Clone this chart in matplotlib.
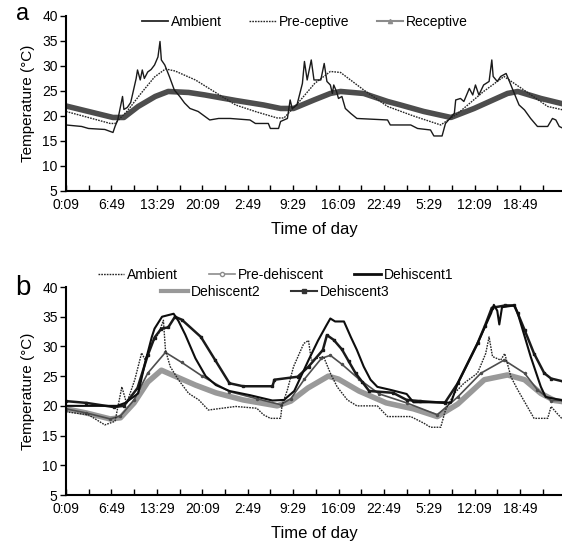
import matplotlib
matplotlib.use("Agg")
import matplotlib.pyplot as plt
from matplotlib.lines import Line2D

plt.rcParams['font.family'] = ['Liberation Sans', 'DejaVu Sans']

# x tick labels (every 400 min from 0:09), ticks every 200 min
tick_labels = ["0:09", "6:49", "13:29", "20:09", "2:49", "9:29",
               "16:09", "22:49", "5:29", "12:09", "18:49"]

# ---- panel a : hours since 0:09 / temperature (deg C)
amb_a_h = [0, 2.3, 3.3, 5.7, 6.9, 7.2, 7.6, 8.3, 8.5, 9.0,
           9.5, 10.3, 10.5, 10.9, 11.2, 11.5, 12.0, 12.5, 13.0, 13.5,
           13.8, 14.0, 14.5, 15.2, 15.9, 16.7, 17.4, 18.2, 19.4, 20.4,
           21.1, 22.4, 24.1, 27.0, 27.8, 29.7, 30.0, 31.2, 31.5, 32.5,
           32.9, 33.2, 33.9, 34.7, 35.0, 35.4, 36.0, 36.4, 37.4, 37.9,
           38.3, 38.8, 39.1, 39.3, 39.7, 40.0, 40.5, 41.0, 41.8, 42.7,
           47.2, 47.6, 50.6, 51.6, 53.5, 54.0, 55.2, 55.7, 57.0, 57.2,
           57.9, 58.4, 59.2, 59.7, 60.1, 60.6, 61.3, 62.1, 62.5, 62.7,
           63.3, 63.8, 64.6, 65.0, 65.8, 66.5, 67.3, 68.2, 69.2, 70.7,
           71.4, 71.9, 72.4, 73.0]
amb_a_t = [18.2, 17.9, 17.5, 17.3, 16.7, 17.9, 19.2, 23.9, 21.3, 21.7,
           22.7, 27.5, 29.2, 27.2, 29.2, 27.5, 28.8, 29.3, 30.2, 31.8,
           34.9, 31.2, 30.2, 27.8, 25.2, 23.9, 22.6, 21.5, 20.9, 19.9,
           19.2, 19.5, 19.5, 19.2, 18.5, 18.5, 17.5, 17.5, 18.9, 19.5,
           23.2, 21.5, 22.2, 26.5, 30.9, 27.2, 31.2, 27.2, 27.2, 30.5,
           26.9, 26.2, 24.5, 26.2, 24.9, 23.5, 23.9, 21.5, 20.5, 19.5,
           19.2, 18.2, 18.2, 17.5, 17.2, 16.0, 16.0, 18.5, 20.5, 23.2,
           23.5, 22.9, 25.5, 24.2, 26.2, 24.2, 26.2, 26.9, 31.2, 27.9,
           26.9, 27.9, 28.5, 27.2, 24.5, 22.2, 21.2, 19.5, 17.9, 17.9,
           19.5, 19.2, 17.9, 17.5]

pre_a_h = [0, 3.0, 6.5, 7.2, 9.0, 11.0, 13.0, 14.6, 16.0, 19.0,
           24.9, 28.0, 31.0, 32.0, 34.0, 36.5, 38.8, 40.3, 43.7, 47.2,
           51.0, 55.0, 57.5, 61.3, 64.3, 67.2, 70.7, 73.0]
pre_a_t = [20.9, 19.8, 18.5, 18.5, 21.0, 24.5, 27.8, 29.4, 29.0, 27.2,
           22.2, 20.8, 19.6, 19.6, 22.5, 26.5, 28.9, 28.7, 25.2, 21.9,
           20.0, 18.2, 20.5, 24.9, 27.9, 25.2, 21.9, 21.2]

rec_a_h = [0, 3.3, 6.9, 8.5, 10.6, 13.1, 15.0, 18.0, 20.4, 24.9,
           29.0, 31.5, 33.4, 36.4, 38.8, 40.3, 43.7, 47.2, 49.1, 52.5,
           56.5, 59.9, 64.8, 66.3, 69.7, 73.0]
rec_a_t = [22.0, 20.9, 19.7, 19.7, 21.9, 23.9, 24.9, 24.7, 24.2, 23.1,
           22.2, 21.5, 21.5, 23.2, 24.5, 24.9, 24.5, 22.9, 22.2, 20.9,
           19.7, 21.5, 24.5, 24.9, 23.5, 22.4]

# ---- panel b
amb_b_h = [0, 3.3, 5.7, 7.2, 8.2, 8.9, 10.1, 11.1, 11.6, 12.6,
           13.6, 14.3, 14.6, 15.3, 16.5, 18.0, 19.5, 20.9, 24.9, 28.0,
           29.0, 30.0, 31.5, 31.7, 32.5, 33.4, 34.9, 35.6, 36.0, 37.8,
           38.8, 39.8, 41.3, 42.7, 45.7, 47.2, 50.6, 52.5, 53.5, 55.0,
           55.7, 57.0, 58.4, 60.4, 61.6, 62.1, 62.6, 63.8, 64.4, 65.3,
           66.3, 67.7, 68.7, 70.7, 71.2, 72.1, 73.0]
amb_b_t = [19.0, 18.5, 16.8, 17.4, 23.2, 20.4, 24.4, 28.9, 27.8, 30.5,
           32.2, 34.4, 29.4, 26.6, 24.4, 22.1, 21.0, 19.3, 19.9, 19.6,
           18.5, 17.9, 17.9, 20.0, 22.7, 26.6, 30.5, 31.0, 27.7, 28.3,
           25.5, 23.2, 21.0, 20.0, 20.0, 18.2, 18.2, 17.1, 16.4, 16.4,
           19.3, 22.1, 23.8, 25.5, 28.8, 31.6, 28.3, 27.7, 28.8, 24.9,
           22.7, 19.9, 17.9, 17.9, 19.9, 18.7, 17.6]

pred_b_h = [0, 3, 6.5, 8, 10, 12, 14.6, 17, 20, 24,
            28, 31.5, 33, 35, 37.5, 38.8, 40.5, 43, 46, 50,
            54.5, 57.5, 60.9, 64.3, 67.3, 69.2, 71.2, 73]
pred_b_t = [19.5, 18.8, 17.8, 18.3, 21.0, 25.5, 29.0, 27.3, 25.0, 22.4,
            21.2, 20.2, 21.2, 24.5, 28.0, 28.5, 27.0, 24.5, 22.0, 20.5,
            18.5, 21.5, 25.5, 27.7, 25.5, 22.7, 20.9, 20.9]

d1_h = [0, 3, 7.5, 8.7, 10.6, 11.6, 12.6, 13.0, 14.1, 15.8,
        16.5, 17.5, 19.0, 20.5, 22.0, 24.0, 27.0, 30.3, 32.0, 33.5,
        35.6, 37.0, 38.2, 38.8, 39.5, 40.8, 41.8, 42.7, 43.7, 44.7,
        45.7, 47.6, 50.0, 51.0, 55.6, 56.5, 57.5, 60.4, 62.4, 62.8,
        63.3, 63.6, 64.0, 65.8, 66.3, 68.2, 69.7, 70.4, 73.0]
d1_t = [20.0, 20.0, 20.0, 20.5, 22.1, 27.2, 31.6, 33.0, 35.0, 35.5,
        34.3, 32.0, 28.0, 25.0, 23.5, 22.5, 21.8, 20.9, 21.0, 22.5,
        27.7, 31.0, 33.5, 34.7, 34.2, 34.2, 31.6, 29.4, 26.6, 24.4,
        23.2, 22.7, 22.0, 20.6, 20.6, 20.5, 23.8, 30.5, 35.6, 37.0,
        36.0, 33.7, 36.6, 36.9, 35.6, 28.3, 23.2, 21.5, 20.9]

d2_h = [0, 3, 6.5, 8, 10, 12, 14.0, 16, 19, 22,
        26, 31, 33, 35.5, 38.5, 40, 43, 47, 51, 54.5,
        57.5, 61.4, 64.8, 67.3, 69.7, 71.7, 73]
d2_t = [19.5, 18.8, 17.8, 18.0, 20.5, 24.0, 26.0, 25.0, 23.5, 22.2,
        21.0, 20.0, 20.8, 23.0, 25.0, 24.5, 22.5, 20.5, 19.5, 18.2,
        20.3, 24.4, 25.2, 24.4, 22.1, 20.9, 20.7]

d3_h = [0, 3, 7, 8.5, 10.5, 12.0, 13.0, 14.0, 15.0, 16.0,
        17.0, 19.8, 21.9, 24.0, 26.0, 30.3, 30.6, 34.0, 35.6, 37.7,
        38.3, 39.3, 40.5, 41.5, 42.5, 43.5, 44.5, 48.0, 50.0, 52.0,
        55.6, 57.5, 60.4, 61.5, 62.5, 64.5, 65.8, 66.3, 67.3, 68.7,
        70.2, 71.2, 73.0]
d3_t = [20.8, 20.5, 19.8, 20.0, 23.0, 28.5, 31.5, 33.0, 33.2, 35.0,
        34.5, 31.6, 27.7, 23.8, 23.3, 23.3, 24.4, 24.9, 26.6, 29.4,
        31.9, 31.1, 29.5, 27.5, 25.5, 24.0, 22.5, 22.2, 21.0, 20.8,
        20.5, 23.8, 30.5, 33.5, 36.5, 36.9, 36.9, 35.6, 32.8, 28.8,
        25.5, 24.6, 24.1]


def style_axes(ax):
    """Excel-like axes: left and bottom spines only, time of day ticks."""
    ax.set_xlim(0, 73)
    ax.set_ylim(5, 40)
    ax.set_yticks(range(5, 41, 5))
    ax.set_xticks([i * 20 / 3 for i in range(len(tick_labels))])
    ax.set_xticklabels(tick_labels)
    ax.set_xticks([i * 10 / 3 for i in range(22)], minor=True)
    ax.spines['top'].set_visible(False)
    ax.spines['right'].set_visible(False)
    ax.spines['left'].set_linewidth(1.5)
    ax.spines['bottom'].set_linewidth(1.5)
    ax.tick_params(axis='y', direction='out', length=4, width=1, labelsize=10, pad=2)
    ax.tick_params(axis='x', which='both', direction='in', length=4, width=1, labelsize=10, pad=5)
    ax.set_xlabel("Time of day", fontsize=12, labelpad=7)
    ax.set_ylabel("Temperature (°C)", fontsize=11, labelpad=5)


fig = plt.figure(figsize=(5.62, 5.41), dpi=100)

# panel a
ax1 = fig.add_axes([0.1174, 0.647, 0.885, 0.3235])
ax1.plot(rec_a_h, rec_a_t, color='0.3', lw=4, solid_capstyle='butt')
ax1.plot(pre_a_h, pre_a_t, color='0.15', lw=1, ls=(0, (1.2, 0.8)))
ax1.plot(amb_a_h, amb_a_t, color='0.1', lw=1)
style_axes(ax1)
handles_a = [Line2D([], [], color='0.15', lw=1.3),
             Line2D([], [], color='0.15', lw=1, ls=(0, (1.2, 0.8))),
             Line2D([], [], color='0.55', lw=1.5, marker='^', ms=3)]
ax1.legend(handles_a, ["Ambient", "Pre-ceptive", "Receptive"], ncol=3,
           loc='center', bbox_to_anchor=(0.48, 0.965), frameon=False,
           fontsize=10, handlelength=1.9, handletextpad=0.2, columnspacing=2.0)
fig.text(0.04, 0.975, "a", fontsize=17, va='center', ha='center')

# panel b
ax2 = fig.add_axes([0.1174, 0.085, 0.885, 0.3845])
ax2.plot(d2_h, d2_t, color='0.6', lw=4, solid_capstyle='butt')
ax2.plot(pred_b_h, pred_b_t, color='0.3', lw=1.2, marker='o', ms=1.5)
ax2.plot(amb_b_h, amb_b_t, color='0.15', lw=1, ls=(0, (1.2, 0.8)))
ax2.plot(d3_h, d3_t, color='0.1', lw=1.8, marker='s', ms=2)
ax2.plot(d1_h, d1_t, color='0.05', lw=1.5)
style_axes(ax2)
fig.text(0.04, 0.468, "b", fontsize=20, va='center', ha='center')

handles_b1 = [Line2D([], [], color='0.15', lw=1, ls=(0, (1.2, 0.8))),
              Line2D([], [], color='0.55', lw=1.2, marker='o', ms=3, mfc='white'),
              Line2D([], [], color='0.05', lw=2)]
handles_b2 = [Line2D([], [], color='0.6', lw=3),
              Line2D([], [], color='0.2', lw=1.5, marker='s', ms=3)]
fig.legend(handles_b1, ["Ambient", "Pre-dehiscent", "Dehiscent1"], ncol=3,
           loc='center', bbox_to_anchor=(0.49, 0.4917), frameon=False,
           fontsize=10, handlelength=1.9, handletextpad=0.2, columnspacing=2.2)
fig.legend(handles_b2, ["Dehiscent2", "Dehiscent3"], ncol=2,
           loc='center', bbox_to_anchor=(0.49, 0.4603), frameon=False,
           fontsize=10, handlelength=1.9, handletextpad=0.2, columnspacing=2.2)

plt.savefig("out.png", dpi=100)
